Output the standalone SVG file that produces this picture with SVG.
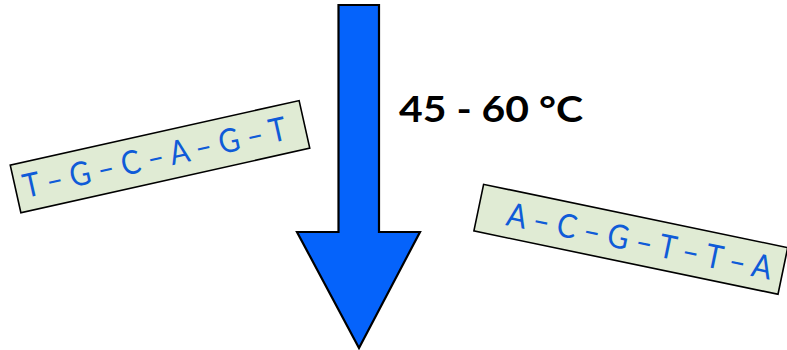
<svg xmlns="http://www.w3.org/2000/svg" width="787" height="350" viewBox="0 0 787 350">
<style>
.box{fill:#e0ebd4;stroke:#000;stroke-width:1.6}
.seq{font-family:Lato,"Open Sans",sans-serif;font-size:33px;fill:#0f5bd8}
.lbl{font-family:Lato,"Open Sans",sans-serif;font-size:36px;font-weight:bold;fill:#000}
</style>
<rect width="787" height="350" fill="#fff"/>
<g id="arrow">
<polygon points="338.5,5 379,5 379,232 420,232 359,348 297,232 338.5,232" fill="#0563fb" stroke="#000" stroke-width="2.2" stroke-linejoin="miter"/>
</g>
<g id="label">
<text class="lbl" x="399" y="122" textLength="184" lengthAdjust="spacingAndGlyphs">45 - 60 °C</text>
</g>
<g id="strand1" transform="translate(160,156.7) rotate(-12.6)">
<rect class="box" x="-148" y="-24.4" width="296" height="48.8"/>
<text class="seq" x="-140" y="11" textLength="269" lengthAdjust="spacingAndGlyphs">T – G – C – A – G – T</text>
</g>
<g id="strand2" transform="translate(630.8,239.3) rotate(11.76)">
<rect class="box" x="-155.3" y="-23.8" width="310.6" height="47.6"/>
<text class="seq" x="-126" y="11.5" textLength="270" lengthAdjust="spacingAndGlyphs">A – C – G – T – T – A</text>
</g>
</svg>
